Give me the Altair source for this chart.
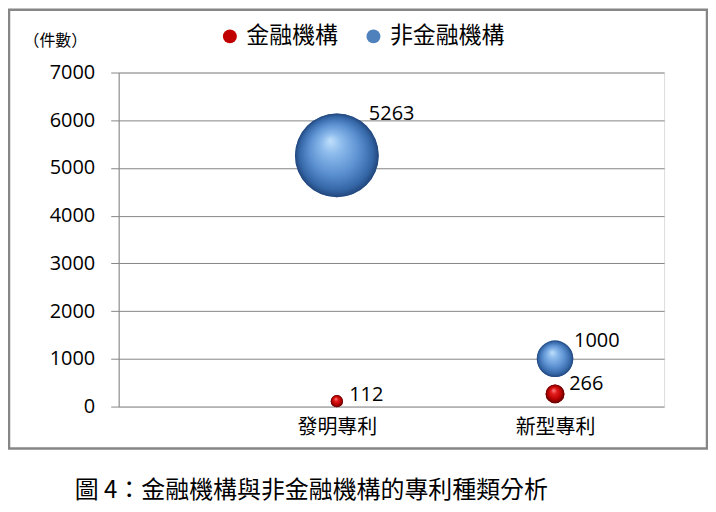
import altair as alt
import pandas as pd

# ---- data ----
categories = ["發明專利", "新型專利"]
category_pos = [1, 2]
series_names = ["金融機構", "非金融機構"]
fin_values = [112, 266]          # 金融機構
nonfin_values = [5263, 1000]     # 非金融機構
y_ticks = [0, 1000, 2000, 3000, 4000, 5000, 6000, 7000]
series_colors = ["#c00000", "#4f81bd"]
caption = "圖 4：金融機構與非金融機構的專利種類分析"

rows = []
for cat, pos, v in zip(categories, category_pos, fin_values):
    rows.append({"cat": cat, "pos": pos, "series": series_names[0], "value": v})
for cat, pos, v in zip(categories, category_pos, nonfin_values):
    rows.append({"cat": cat, "pos": pos, "series": series_names[1], "value": v})
df = pd.DataFrame(rows)

CJK = "Noto Sans CJK TC"
NUM = "Open Sans"

label_expr = " : ".join(
    [f"datum.value == {p} ? '{c}'" for p, c in zip(category_pos, categories)] + ["''"]
)

x_enc = alt.X(
    "pos:Q",
    scale=alt.Scale(domain=[0, 2.5], nice=False, zero=True),
    axis=alt.Axis(
        values=category_pos, labelExpr=label_expr, domain=False, ticks=False,
        grid=False, title=None, labelFont=CJK, labelFontSize=20,
        labelColor="#000000", labelPadding=11,
    ),
)
y_enc = alt.Y(
    "value:Q",
    scale=alt.Scale(domain=[0, 7000], nice=False),
    axis=alt.Axis(
        values=y_ticks, format="d", grid=True, gridColor="#868686", gridWidth=1,
        domainColor="#868686", tickColor="#868686", tickSize=8,
        labelFont=NUM, labelFontSize=20, labelColor="#000000", labelPadding=16,
        title="（件數）", titleAngle=0, titleX=-96, titleY=-32,
        titleAlign="left", titleBaseline="middle", titleFont=CJK,
        titleFontSize=16, titleFontWeight="normal", titleColor="#000000",
    ),
)
size_enc = alt.Size(
    "value:Q",
    scale=alt.Scale(type="linear", domain=[0, 5263], range=[0, 7056], zero=True),
    legend=None,
)

base = alt.Chart(df)

# frame around the chart area
frame = alt.Chart(pd.DataFrame({"a": [0]})).mark_rect(
    fill="transparent", stroke="#868686", strokeWidth=2.5
).encode(
    x=alt.value(-110), x2=alt.value(590), y=alt.value(-63), y2=alt.value(377)
)

legend_layer = base.mark_circle(opacity=1).encode(
    x=x_enc, y=y_enc, size=size_enc,
    color=alt.Color(
        "series:N",
        scale=alt.Scale(domain=series_names, range=series_colors),
        legend=alt.Legend(
            title=None, orient="none", direction="horizontal",
            legendX=100, legendY=-48, symbolType="circle", symbolSize=196,
            symbolStrokeWidth=0, labelFont=CJK, labelFontSize=23,
            labelColor="#000000", labelOffset=5, columnPadding=24,
        ),
    ),
)

red_grad = {
    "gradient": "radial", "x1": 0.42, "y1": 0.3, "r1": 0,
    "x2": 0.5, "y2": 0.5, "r2": 0.5,
    "stops": [
        {"offset": 0, "color": "#ff9090"},
        {"offset": 0.3, "color": "#e41e1e"},
        {"offset": 0.7, "color": "#bb0000"},
        {"offset": 1, "color": "#5a0000"},
    ],
}
blue_grad = {
    "gradient": "radial", "x1": 0.42, "y1": 0.32, "r1": 0,
    "x2": 0.5, "y2": 0.5, "r2": 0.5,
    "stops": [
        {"offset": 0, "color": "#c0e0fb"},
        {"offset": 0.25, "color": "#8cbaec"},
        {"offset": 0.6, "color": "#5b90d0"},
        {"offset": 0.88, "color": "#3466a6"},
        {"offset": 1, "color": "#22457a"},
    ],
}

red_layer = base.transform_filter(
    alt.datum.series == series_names[0]
).mark_circle(fill=red_grad, opacity=1).encode(x=x_enc, y=y_enc, size=size_enc)
blue_layer = base.transform_filter(
    alt.datum.series == series_names[1]
).mark_circle(fill=blue_grad, opacity=1).encode(x=x_enc, y=y_enc, size=size_enc)

labels = base.mark_text(
    align="left", baseline="middle", font=NUM, fontSize=20, color="#000000",
    dx=alt.expr("9 + 0.55 * sqrt(scale('size', datum.value)) / 2"),
    dy=alt.expr("0 - sqrt(scale('size', datum.value)) / 2"),
).encode(x=x_enc, y=y_enc, text="value:Q")

chart = alt.layer(
    frame, legend_layer, red_layer, blue_layer, labels
).properties(
    width=547, height=335,
    padding={"left": 111, "top": 64, "right": 44, "bottom": 100},
    autosize=alt.AutoSizeParams(type="none"),
    title=alt.TitleParams(
        caption, orient="bottom", anchor="start", frame="group", dx=-44,
        offset=29, font=CJK, fontSize=24, fontWeight="normal", color="#000000",
    ),
).configure_view(stroke=None).configure(background="#ffffff")

chart.save("out.html", embed_options={"renderer": "svg", "actions": False})
